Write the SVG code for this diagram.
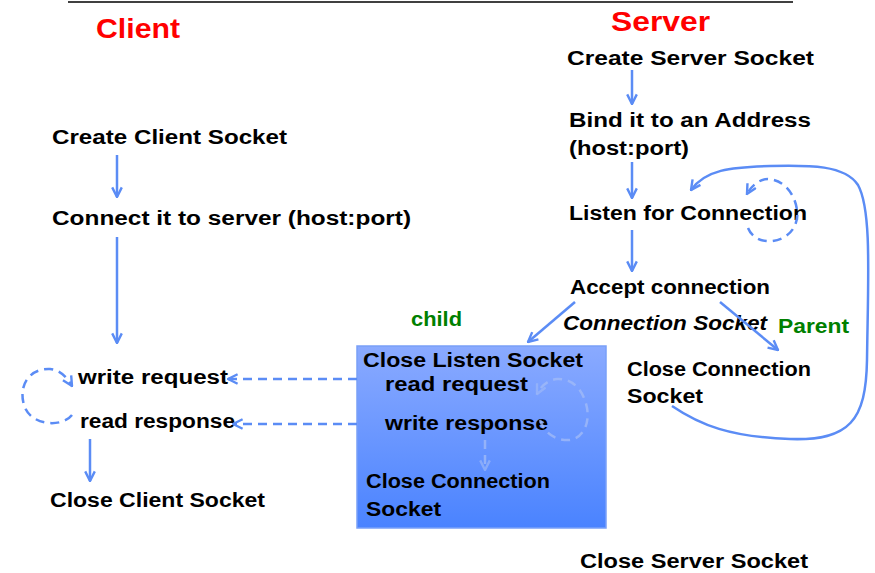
<svg xmlns="http://www.w3.org/2000/svg" width="875" height="573" viewBox="0 0 875 573">
<defs>
<style>
.t{font-family:"Liberation Sans",Arial,sans-serif;font-weight:bold;font-size:20px;fill:#000}
.ti{font-style:italic}
.red{font-family:"Liberation Sans",Arial,sans-serif;font-weight:bold;font-size:28px;fill:#ff0000}
.grn{font-family:"Liberation Sans",Arial,sans-serif;font-weight:bold;font-size:20px;fill:#008000}
.c{stroke:#5b8cf5;stroke-width:2.5;fill:none}
.d{stroke:#5b8cf5;stroke-width:2.5;fill:none;stroke-dasharray:9 6}
.f{stroke:#a0baf8;stroke-width:2.5;fill:none;stroke-dasharray:9 6;opacity:0.8}
</style>
<marker id="ah" viewBox="0 0 10 10" refX="9" refY="5" markerWidth="12" markerHeight="12" markerUnits="userSpaceOnUse" orient="auto">
<path d="M1,1 L9,5 L1,9" fill="none" stroke="#5b8cf5" stroke-width="2"/>
</marker>
<marker id="af" viewBox="0 0 10 10" refX="9" refY="5" markerWidth="12" markerHeight="12" markerUnits="userSpaceOnUse" orient="auto">
<path d="M1,1 L9,5 L1,9" fill="none" stroke="#a0baf8" stroke-width="2" opacity="0.8"/>
</marker>
<linearGradient id="bg" x1="0" y1="0" x2="0" y2="1">
<stop offset="0" stop-color="#8aaaff"/>
<stop offset="1" stop-color="#4a83ff"/>
</linearGradient>
</defs>
<rect width="875" height="573" fill="#fff"/>
<line x1="68" y1="2" x2="793" y2="2" stroke="#000" stroke-width="1.5"/>

<g id="labels">
<text class="red" x="96" y="38" textLength="84" lengthAdjust="spacingAndGlyphs">Client</text>
<text class="red" x="611" y="31" textLength="99" lengthAdjust="spacingAndGlyphs">Server</text>
<text class="grn" x="411" y="326" textLength="51" lengthAdjust="spacingAndGlyphs">child</text>
<text class="grn" x="778" y="333" textLength="71" lengthAdjust="spacingAndGlyphs">Parent</text>
<text class="t ti" x="563" y="330" textLength="204" lengthAdjust="spacingAndGlyphs">Connection Socket</text>
</g>

<g id="child-box">
<rect x="357" y="346" width="249" height="182" fill="url(#bg)" stroke="#7aa0f8" stroke-width="1.5"/>
<text class="t" x="363" y="367" textLength="220" lengthAdjust="spacingAndGlyphs">Close Listen Socket</text>
<text class="t" x="385" y="391" textLength="143" lengthAdjust="spacingAndGlyphs">read request</text>
<text class="t" x="385" y="430" textLength="163" lengthAdjust="spacingAndGlyphs">write response</text>
<text class="t" x="366" y="488" textLength="184" lengthAdjust="spacingAndGlyphs">Close Connection</text>
<text class="t" x="366" y="516" textLength="75" lengthAdjust="spacingAndGlyphs">Socket</text>
</g>

<g id="client-nodes">
<g id="create-client"><text class="t" x="52" y="144" textLength="235" lengthAdjust="spacingAndGlyphs">Create Client Socket</text></g>
<g id="connect"><text class="t" x="52" y="225" textLength="359" lengthAdjust="spacingAndGlyphs">Connect it to server (host:port)</text></g>
<g id="write-request"><text class="t" x="78" y="384" textLength="150" lengthAdjust="spacingAndGlyphs">write request</text></g>
<g id="read-response"><text class="t" x="80" y="428" textLength="155" lengthAdjust="spacingAndGlyphs">read response</text></g>
<g id="close-client"><text class="t" x="50" y="507" textLength="215" lengthAdjust="spacingAndGlyphs">Close Client Socket</text></g>
</g>

<g id="server-nodes">
<g id="create-server"><text class="t" x="567" y="65" textLength="247" lengthAdjust="spacingAndGlyphs">Create Server Socket</text></g>
<g id="bind"><text class="t" x="569" y="127" textLength="242" lengthAdjust="spacingAndGlyphs">Bind it to an Address</text>
<text class="t" x="569" y="155" textLength="120" lengthAdjust="spacingAndGlyphs">(host:port)</text></g>
<g id="listen"><text class="t" x="569" y="220" textLength="238" lengthAdjust="spacingAndGlyphs">Listen for Connection</text></g>
<g id="accept"><text class="t" x="570" y="294" textLength="200" lengthAdjust="spacingAndGlyphs">Accept connection</text></g>
<g id="close-conn-parent"><text class="t" x="627" y="376" textLength="184" lengthAdjust="spacingAndGlyphs">Close Connection</text>
<text class="t" x="627" y="403" textLength="76" lengthAdjust="spacingAndGlyphs">Socket</text></g>
<g id="close-server"><text class="t" x="580" y="568" textLength="228" lengthAdjust="spacingAndGlyphs">Close Server Socket</text></g>
</g>

<g id="connectors">
<line class="c" x1="117" y1="155" x2="117" y2="197" marker-end="url(#ah)"/>
<line class="c" x1="117" y1="237" x2="117" y2="343" marker-end="url(#ah)"/>
<line class="c" x1="90" y1="439" x2="90" y2="481" marker-end="url(#ah)"/>
<path class="d" d="M72,415 C62,428 30,426 24,405 C18,385 30,368 50,369 C60,370 66,376 72,386" marker-end="url(#ah)"/>
<line class="d" x1="357" y1="379" x2="228" y2="379" marker-end="url(#ah)"/>
<line class="d" x1="357" y1="424" x2="233" y2="424" marker-end="url(#ah)"/>

<line class="c" x1="632" y1="70" x2="632" y2="104" marker-end="url(#ah)"/>
<line class="c" x1="632" y1="162" x2="632" y2="198" marker-end="url(#ah)"/>
<line class="c" x1="632" y1="230" x2="632" y2="271" marker-end="url(#ah)"/>
<line class="c" x1="575" y1="302" x2="528" y2="342" marker-end="url(#ah)"/>
<line class="c" x1="720" y1="302" x2="778" y2="350" marker-end="url(#ah)"/>
<path class="c" d="M672,406 C700,425 730,437 790,439 C850,441 866,420 867,360 C868,280 872,210 858,185 C845,165 810,165 770,166 C730,167 705,170 691,190" marker-end="url(#ah)"/>
<path class="d" d="M748,228 C752,238 762,242 772,241 C790,239 799,225 797,210 C795,195 785,180 768,179 C760,179 752,185 747,194" marker-end="url(#ah)"/>
<path class="f" d="M540,420 C545,435 558,441 570,440 C582,438 590,425 587,408 C584,392 574,378 557,379 C548,380 541,386 537,394" marker-end="url(#af)"/>
<line class="f" x1="485" y1="440" x2="485" y2="470" marker-end="url(#af)"/>
</g>
</svg>
